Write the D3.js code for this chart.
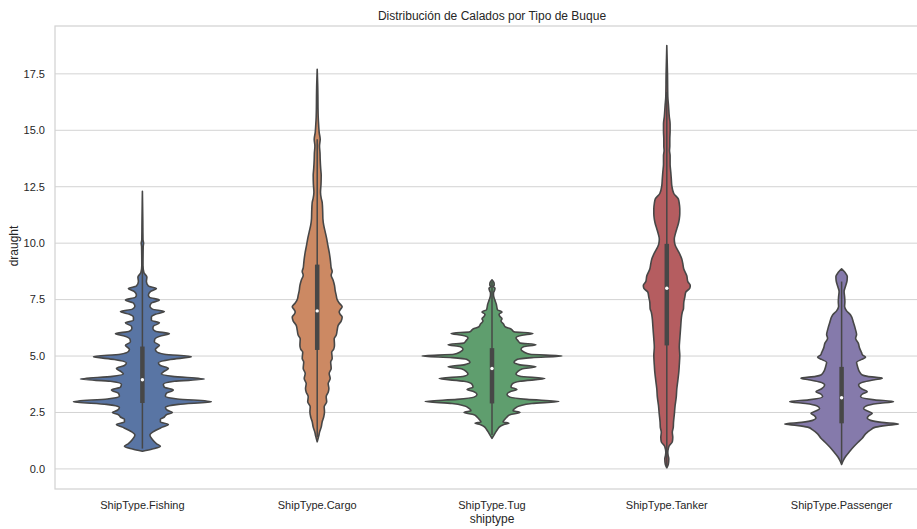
<!DOCTYPE html>
<html>
<head>
<meta charset="utf-8">
<script src="https://cdn.jsdelivr.net/npm/d3@7/dist/d3.min.js"></script>
<style>
  html, body { margin: 0; padding: 0; background: #ffffff; }
  svg { display: block; font-family: "Liberation Sans", Arial, sans-serif; }
</style>
</head>
<body>
<svg id="chart" width="917" height="529"></svg>
<script>
// Ship categories and fill colours
const shipTypes = ["ShipType.Fishing", "ShipType.Cargo", "ShipType.Tug", "ShipType.Tanker", "ShipType.Passenger"];
const fillColors = ["#5975a4", "#cc8963", "#5f9e6e", "#b55d60", "#857aab"];

// Kernel density estimates: [draught, density]
const fishingKde = [
  [0.78, 0], [0.88, 0.10], [1.0, 0.18], [1.12, 0.14], [1.3, 0.10], [1.5, 0.075], [1.7, 0.13], [1.85, 0.20],
  [1.97, 0.26], [2.08, 0.18], [2.2, 0.18], [2.3, 0.22], [2.4, 0.24], [2.5, 0.30], [2.6, 0.25], [2.72, 0.23],
  [2.86, 0.36], [2.98, 0.69], [3.1, 0.35], [3.22, 0.23], [3.35, 0.24], [3.5, 0.31], [3.62, 0.22], [3.75, 0.21],
  [3.88, 0.32], [3.98, 0.62], [4.1, 0.30], [4.2, 0.19], [4.3, 0.21], [4.45, 0.26], [4.58, 0.18], [4.7, 0.16],
  [4.85, 0.28], [4.97, 0.49], [5.08, 0.22], [5.2, 0.14], [5.3, 0.13], [5.48, 0.17], [5.62, 0.12], [5.75, 0.125],
  [5.9, 0.19], [5.99, 0.27], [6.1, 0.13], [6.22, 0.105], [6.32, 0.11], [6.47, 0.17], [6.58, 0.09], [6.72, 0.09],
  [6.85, 0.13], [6.97, 0.22], [7.08, 0.10], [7.2, 0.075], [7.35, 0.09], [7.48, 0.17], [7.6, 0.07], [7.7, 0.06],
  [7.85, 0.08], [7.99, 0.14], [8.1, 0.06], [8.3, 0.04], [8.5, 0.045], [8.7, 0.015], [9.0, 0.006], [9.85, 0.008],
  [10.0, 0.012], [10.15, 0.006], [11.0, 0.004], [12.3, 0]
];
const cargoKde = [
  [1.2, 0], [1.45, 0.015], [1.65, 0.025], [1.85, 0.04], [2.09, 0.05], [2.3, 0.065], [2.53, 0.073], [2.75, 0.07],
  [2.97, 0.095], [3.2, 0.09], [3.4, 0.11], [3.56, 0.117], [3.78, 0.11], [4.0, 0.13], [4.23, 0.12], [4.45, 0.14],
  [4.74, 0.135], [4.89, 0.15], [5.18, 0.145], [5.3, 0.165], [5.48, 0.173], [5.77, 0.17], [5.92, 0.19], [6.15, 0.20],
  [6.36, 0.21], [6.55, 0.24], [6.73, 0.25], [6.85, 0.23], [6.95, 0.22], [7.05, 0.23], [7.18, 0.25], [7.35, 0.22],
  [7.5, 0.20], [7.7, 0.19], [7.9, 0.18], [8.13, 0.173], [8.35, 0.16], [8.58, 0.14], [8.75, 0.15], [8.9, 0.14],
  [9.1, 0.135], [9.3, 0.13], [9.6, 0.12], [9.9, 0.107], [10.2, 0.095], [10.5, 0.08], [10.8, 0.065], [11.08, 0.057],
  [11.4, 0.055], [11.8, 0.05], [12.0, 0.04], [12.26, 0.033], [12.6, 0.038], [13.0, 0.04], [13.3, 0.035], [13.7, 0.03],
  [14.0, 0.028], [14.3, 0.023], [14.6, 0.03], [14.9, 0.02], [15.2, 0.015], [15.6, 0.01], [16.0, 0.008], [16.5, 0.007],
  [17.0, 0.005], [17.7, 0]
];
const tugKde = [
  [1.35, 0], [1.5, 0.02], [1.65, 0.04], [1.75, 0.055], [1.88, 0.08], [1.97, 0.12], [2.02, 0.17], [2.08, 0.11],
  [2.18, 0.125], [2.3, 0.15], [2.4, 0.18], [2.5, 0.28], [2.58, 0.21], [2.68, 0.23], [2.8, 0.28], [2.9, 0.40],
  [2.99, 0.67], [3.08, 0.35], [3.18, 0.18], [3.3, 0.15], [3.42, 0.18], [3.52, 0.25], [3.62, 0.19], [3.75, 0.20],
  [3.88, 0.28], [4.0, 0.53], [4.1, 0.28], [4.2, 0.24], [4.32, 0.26], [4.43, 0.30], [4.52, 0.44], [4.62, 0.27],
  [4.72, 0.22], [4.85, 0.25], [4.93, 0.40], [5.0, 0.70], [5.08, 0.38], [5.18, 0.32], [5.3, 0.29], [5.42, 0.32],
  [5.5, 0.44], [5.58, 0.28], [5.68, 0.26], [5.8, 0.24], [5.92, 0.30], [6.0, 0.41], [6.08, 0.22], [6.2, 0.19],
  [6.3, 0.13], [6.42, 0.115], [6.55, 0.09], [6.65, 0.10], [6.75, 0.08], [6.85, 0.07], [6.95, 0.10], [7.05, 0.055],
  [7.3, 0.043], [7.5, 0.027], [7.7, 0.015], [7.8, 0.015], [7.9, 0.025], [8.0, 0.03], [8.08, 0.012], [8.15, 0.022],
  [8.25, 0.02], [8.38, 0]
];
const tankerKde = [
  [0.05, 0], [0.2, 0.015], [0.44, 0.02], [0.6, 0.013], [0.74, 0.01], [0.9, 0.015], [1.03, 0.025], [1.2, 0.055],
  [1.4, 0.06], [1.62, 0.055], [1.85, 0.065], [2.06, 0.067], [2.4, 0.075], [2.8, 0.083], [3.2, 0.095], [3.54, 0.10],
  [3.9, 0.11], [4.28, 0.12], [4.6, 0.125], [5.02, 0.13], [5.4, 0.125], [5.76, 0.13], [6.05, 0.135], [6.35, 0.14],
  [6.65, 0.145], [6.94, 0.155], [7.1, 0.167], [7.38, 0.17], [7.6, 0.18], [7.83, 0.19], [8.0, 0.23], [8.12, 0.235],
  [8.3, 0.21], [8.56, 0.20], [8.86, 0.17], [9.1, 0.16], [9.3, 0.15], [9.6, 0.12], [9.8, 0.095], [9.97, 0.08],
  [10.19, 0.075], [10.4, 0.085], [10.63, 0.10], [10.85, 0.115], [11.07, 0.125], [11.3, 0.13], [11.52, 0.13], [11.75, 0.125],
  [11.96, 0.115], [12.2, 0.07], [12.55, 0.05], [12.85, 0.045], [13.14, 0.04], [13.5, 0.033], [13.88, 0.033], [14.1, 0.027],
  [14.3, 0.03], [14.62, 0.03], [14.95, 0.033], [15.28, 0.033], [15.6, 0.025], [16.1, 0.017], [16.5, 0.01], [17.5, 0.007],
  [18.75, 0]
];
const passengerKde = [
  [0.2, 0], [0.4, 0.02], [0.55, 0.04], [0.77, 0.08], [0.99, 0.123], [1.18, 0.165], [1.36, 0.207], [1.55, 0.24],
  [1.73, 0.29], [1.85, 0.34], [1.93, 0.45], [1.99, 0.57], [2.06, 0.40], [2.15, 0.29], [2.25, 0.257], [2.35, 0.27],
  [2.47, 0.307], [2.58, 0.25], [2.68, 0.22], [2.8, 0.25], [2.9, 0.36], [2.98, 0.52], [3.06, 0.33], [3.2, 0.19],
  [3.32, 0.21], [3.42, 0.257], [3.55, 0.20], [3.72, 0.17], [3.85, 0.22], [3.95, 0.33], [4.02, 0.407], [4.1, 0.26],
  [4.16, 0.207], [4.3, 0.18], [4.53, 0.16], [4.72, 0.15], [4.85, 0.20], [4.95, 0.24], [5.05, 0.21], [5.15, 0.20],
  [5.35, 0.18], [5.57, 0.167], [5.79, 0.14], [5.95, 0.15], [6.16, 0.14], [6.46, 0.12], [6.82, 0.09], [7.0, 0.05],
  [7.19, 0.03], [7.4, 0.033], [7.63, 0.03], [7.86, 0.025], [8.1, 0.04], [8.35, 0.055], [8.52, 0.057], [8.7, 0.035],
  [8.86, 0]
];
const kdes = [fishingKde, cargoKde, tugKde, tankerKde, passengerKde];

// Box summary per ship type
const q1 = [2.92, 5.27, 2.9, 5.47, 2.02];
const medians = [3.95, 7.0, 4.45, 8.0, 3.15];
const q3 = [5.42, 9.05, 5.35, 9.97, 4.52];
const whiskerLow = [0.9, 1.4, 1.5, 0.1, 0.3];
const whiskerHigh = [9.0, 14.6, 8.3, 16.7, 8.3];

// Axis ticks
const yTicks = [0, 2.5, 5, 7.5, 10, 12.5, 15, 17.5];

const svg = d3.select("#chart");
const margin = { left: 55, top: 26, right: 929, bottom: 489 };
const outline = "#474747";
const textColor = "#262626";
const gridColor = "#d3d3d3";

const x = d3.scaleBand().domain(shipTypes).range([margin.left, margin.right]).paddingInner(0).paddingOuter(0);
const y = d3.scaleLinear().domain([-0.89, 19.62]).range([margin.bottom, margin.top]);

const maxDensity = d3.max(kdes, k => d3.max(k, d => d[1]));
const w = d3.scaleLinear().domain([0, maxDensity]).range([0, x.bandwidth() * 0.4]);

// horizontal grid
svg.append("g")
  .selectAll("line")
  .data(yTicks)
  .join("line")
  .attr("x1", margin.left).attr("x2", margin.right)
  .attr("y1", d => y(d)).attr("y2", d => y(d))
  .attr("stroke", gridColor).attr("stroke-width", 1);

// frame
svg.append("rect")
  .attr("x", margin.left).attr("y", margin.top)
  .attr("width", margin.right - margin.left).attr("height", margin.bottom - margin.top)
  .attr("fill", "none").attr("stroke", gridColor).attr("stroke-width", 1.25);

// violins
const violins = svg.append("g");
shipTypes.forEach((name, i) => {
  const cx = x(name) + x.bandwidth() / 2;
  const area = d3.area()
    .curve(d3.curveMonotoneY)
    .y(d => y(d[0]))
    .x0(d => cx - w(d[1]))
    .x1(d => cx + w(d[1]));
  const g = violins.append("g");
  g.append("path")
    .datum(kdes[i])
    .attr("d", area)
    .attr("fill", fillColors[i])
    .attr("stroke", outline)
    .attr("stroke-width", 1.6)
    .attr("stroke-linejoin", "round");
  // whisker
  g.append("line")
    .attr("x1", cx).attr("x2", cx)
    .attr("y1", y(whiskerLow[i])).attr("y2", y(whiskerHigh[i]))
    .attr("stroke", outline).attr("stroke-width", 1.5);
  // interquartile box
  g.append("line")
    .attr("x1", cx).attr("x2", cx)
    .attr("y1", y(q1[i])).attr("y2", y(q3[i]))
    .attr("stroke", outline).attr("stroke-width", 4.5);
  // median
  g.append("circle")
    .attr("cx", cx).attr("cy", y(medians[i]))
    .attr("r", 1.7)
    .attr("fill", "#ffffff");
});

// y axis labels
svg.append("g")
  .selectAll("text")
  .data(yTicks)
  .join("text")
  .attr("x", 45)
  .attr("y", d => y(d))
  .attr("dy", "0.35em")
  .attr("text-anchor", "end")
  .attr("font-size", 11)
  .attr("fill", textColor)
  .text(d => d3.format(".1f")(d));

// x axis labels
svg.append("g")
  .selectAll("text")
  .data(shipTypes)
  .join("text")
  .attr("x", d => x(d) + x.bandwidth() / 2)
  .attr("y", 509)
  .attr("text-anchor", "middle")
  .attr("font-size", 11)
  .attr("fill", textColor)
  .text(d => d);

// axis titles
svg.append("text")
  .attr("x", (margin.left + margin.right) / 2)
  .attr("y", 523)
  .attr("text-anchor", "middle")
  .attr("font-size", 12)
  .attr("fill", textColor)
  .text("shiptype");

svg.append("text")
  .attr("transform", "translate(18,246) rotate(-90)")
  .attr("text-anchor", "middle")
  .attr("font-size", 12)
  .attr("fill", textColor)
  .text("draught");

svg.append("text")
  .attr("x", (margin.left + margin.right) / 2)
  .attr("y", 20)
  .attr("text-anchor", "middle")
  .attr("font-size", 12)
  .attr("fill", textColor)
  .text("Distribución de Calados por Tipo de Buque");
</script>
</body>
</html>
